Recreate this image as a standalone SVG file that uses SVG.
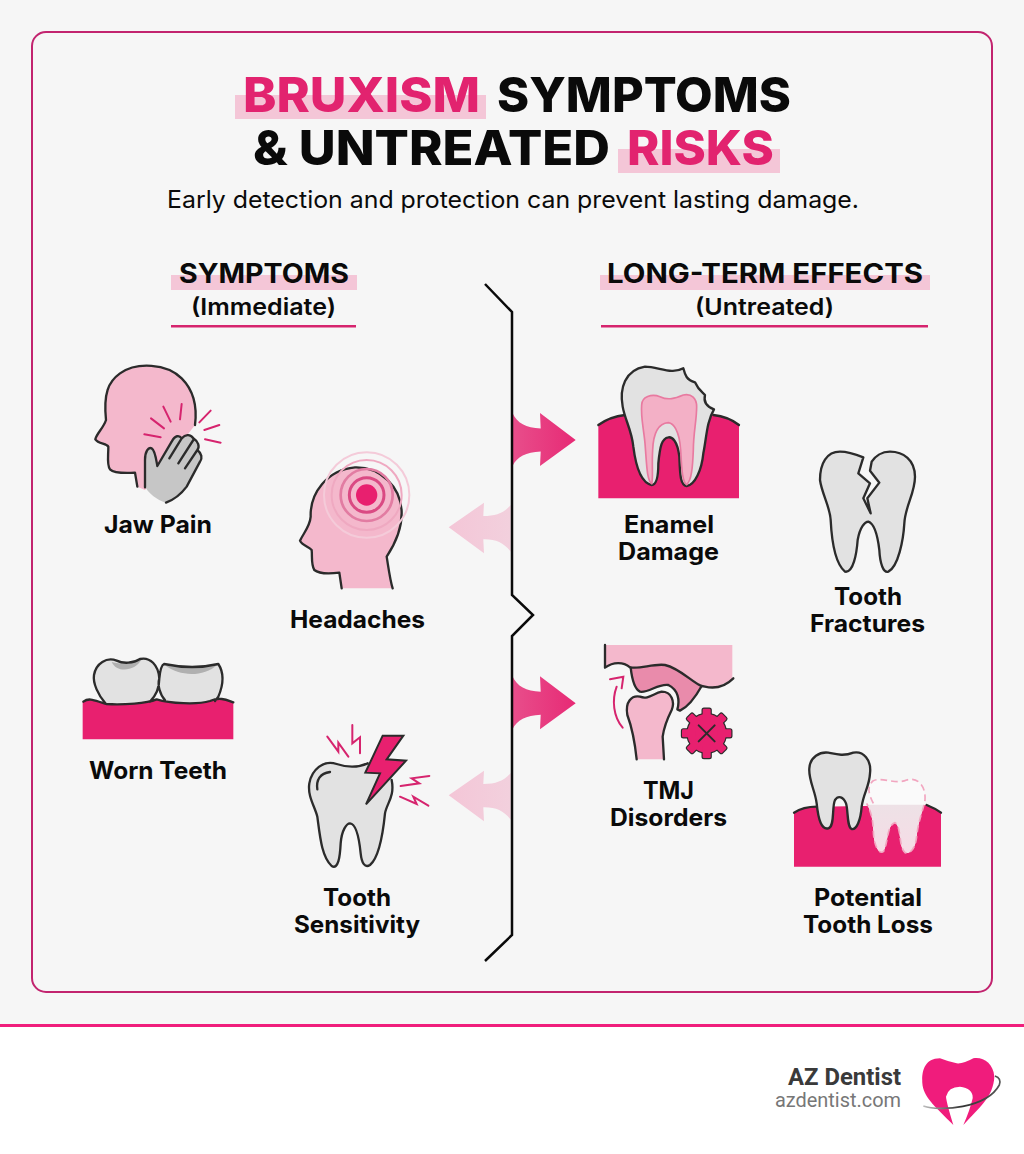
<svg xmlns="http://www.w3.org/2000/svg" width="1024" height="1154" viewBox="0 0 1024 1154">
<style>
text{font-family:Inter,"Liberation Sans",sans-serif;fill:#0a0a0a}
.t{font-size:48px;font-weight:800}
.p{fill:#E2236F}
.h{fill:#F4C6D7}
.lb{font-size:24px;font-weight:700}
.hd{font-size:27px;font-weight:700}
.sub{font-size:23px;font-weight:600}
.o{stroke:#2b2b2b;stroke-width:7;fill:none;stroke-linecap:round;stroke-linejoin:round}
.m{stroke:#D6246E;stroke-width:6;fill:none;stroke-linecap:round;stroke-linejoin:miter}
.sk{fill:#F4B8CC}
.gr{fill:#E2E2E2}
.gum{fill:#E8206F}
</style>
<defs>
<linearGradient id="ga" x1="0" x2="1" y1="0" y2="0"><stop offset="0" stop-color="#E84E8B"/><stop offset="1" stop-color="#E72A75"/></linearGradient>
<linearGradient id="gb" x1="0" x2="1" y1="0" y2="0"><stop offset="0" stop-color="#F4C6D7"/><stop offset="1" stop-color="#F2D0DD"/></linearGradient>
<linearGradient id="gg" x1="0" x2="0" y1="0" y2="1"><stop offset="0" stop-color="#E9E4E6"/><stop offset="1" stop-color="#F6DCE6"/></linearGradient>
<linearGradient id="gr" x1="0" x2="1" y1="0" y2="0"><stop offset="0" stop-color="#BDBDBD"/><stop offset=".5" stop-color="#333"/><stop offset="1" stop-color="#555"/></linearGradient>
<path id="ar" d="M512.500 413C517 423 526 428 540.700 428.500L540 413L575.700 440L540 466L540.700 451.500C526 452 517 457 512.500 466Z"/>
<path id="al" d="M510.700 505C504 513 496 516 483.300 516L484 502.700L448.700 527.300L484 553.300L483.300 539.300C496 539 504 543 510.700 551.700Z"/>
<clipPath id="below"><rect x="600" y="524" width="460" height="200"/></clipPath>
<filter id="soft" x="-10%" y="-10%" width="120%" height="120%"><feGaussianBlur stdDeviation="0.5"/></filter>
<rect id="gt" x="-12" y="-74" width="24" height="40" rx="4"/>
</defs>
<rect width="1024" height="1154" fill="#F6F6F6"/>
<rect y="1027" width="1024" height="127" fill="#fff"/>
<rect y="1024" width="1024" height="3" fill="#F01E7C"/>
<rect x="32" y="32" width="960" height="960" rx="14" fill="none" stroke="#C2246F" stroke-width="2"/>

<g id="title">
<rect x="235" y="95" width="251" height="24" class="h"/>
<rect x="618" y="149" width="162" height="24" class="h"/>
<text x="243" y="112" class="t p" textLength="237" lengthAdjust="spacingAndGlyphs">BRUXISM</text>
<text x="497" y="112" class="t" textLength="294" lengthAdjust="spacingAndGlyphs">SYMPTOMS</text>
<text x="253" y="165" class="t" textLength="357" lengthAdjust="spacingAndGlyphs">&amp; UNTREATED</text>
<text x="627" y="165" class="t p" textLength="147" lengthAdjust="spacingAndGlyphs">RISKS</text>
<text x="167" y="208" font-size="24" textLength="692" lengthAdjust="spacingAndGlyphs">Early detection and protection can prevent lasting damage.</text>
</g>

<g id="head-symptoms">
<rect x="171" y="275" width="186" height="15" class="h"/>
<text x="179" y="283" class="hd" textLength="170" lengthAdjust="spacingAndGlyphs">SYMPTOMS</text>
<text x="191" y="315" class="sub" textLength="145" lengthAdjust="spacingAndGlyphs">(Immediate)</text>
<rect x="171" y="325" width="185" height="2.500" fill="#D6246E"/>
</g>
<g id="head-effects">
<rect x="600" y="275" width="330" height="15" class="h"/>
<text x="607" y="283" class="hd" textLength="316" lengthAdjust="spacingAndGlyphs">LONG-TERM EFFECTS</text>
<text x="695" y="315" class="sub" textLength="139" lengthAdjust="spacingAndGlyphs">(Untreated)</text>
<rect x="601" y="325" width="327" height="2.500" fill="#D6246E"/>
</g>

<g id="connectors">
<use href="#ar" fill="url(#ga)"/>
<use href="#ar" y="263.300" fill="url(#ga)"/>
<use href="#al" fill="url(#gb)"/>
<use href="#al" y="268" fill="url(#gb)"/>
<path d="M485 284L512 312V595L533 615L512 636V935L485 961" fill="none" stroke="#0a0a0a" stroke-width="2.500"/>
</g>

<g id="jaw-pain">
<g transform="translate(80 350) scale(.33333)">
<path class="sk" d="M172 410L165 368C130 370 100 368 90 358C80 345 85 320 85 290C80 280 55 282 46 268C50 250 70 235 78 210C70 130 85 95 120 70C170 35 260 40 305 85C340 120 352 170 345 225L195 420Z"/>
<path class="o" d="M172 410L165 368C130 370 100 368 90 358C80 345 85 320 85 290C80 280 55 282 46 268C50 250 70 235 78 210C70 130 85 95 120 70C170 35 260 40 305 85C340 120 352 170 345 225"/>
<path fill="#C6C6C6" d="M258 458C230 450 205 430 192 405L195 330C195 305 205 290 215 295C225 300 228 325 232 348L275 275C285 255 298 255 305 265C315 255 330 250 340 265C355 275 360 290 352 300C365 310 368 325 360 335L320 410C305 430 280 450 258 458Z"/>
<path class="o" d="M195 412L195 330C195 305 205 290 215 295C225 300 228 325 232 348L275 275C285 255 298 255 305 265C315 255 330 250 340 265C355 275 360 290 352 300C365 310 368 325 360 335L320 410C305 430 280 450 258 458M305 265L268 325M340 270L295 340M352 300L315 355"/>
<path class="m" d="M250 170L272 215M305 162L300 208M213 205L252 235M193 253L242 262M392 182L358 217M418 225L373 240M375 268L422 278"/>
</g>
<text x="104" y="533" class="lb" textLength="108" lengthAdjust="spacingAndGlyphs">Jaw Pain</text>
</g>

<g id="headaches">
<g transform="translate(80 350) scale(.33333)">
<path class="sk" d="M785 715L778 668C745 672 715 670 703 660C693 645 697 620 695 600C685 590 665 585 660 572C670 550 690 530 692 500C690 430 740 360 825 352C900 350 965 410 965 490C965 540 940 590 920 620C925 650 930 690 938 715Z"/>
<path class="o" d="M785 715L778 668C745 672 715 670 703 660C693 645 697 620 695 600C685 590 665 585 660 572C670 550 690 530 692 500C690 430 740 360 825 352C900 350 965 410 965 490C965 540 940 590 920 620C925 650 930 690 938 715"/>
<g fill="none">
<circle cx="860" cy="435" r="128" stroke="#F4CBD9" stroke-width="6"/>
<circle cx="860" cy="435" r="105" stroke="#EFA9C1" stroke-width="6"/>
<circle cx="860" cy="435" r="78" stroke="#E27CA2" stroke-width="8"/>
<circle cx="860" cy="435" r="52" stroke="#DA4A83" stroke-width="9"/>
</g>
<circle cx="860" cy="435" r="32" class="gum"/>
</g>
<text x="290" y="628" class="lb" textLength="135" lengthAdjust="spacingAndGlyphs">Headaches</text>
</g>

<g id="worn-teeth">
<g transform="translate(70 640) scale(.33333)">
<path class="gr" d="M105 190C85 165 68 130 72 105C78 70 110 50 140 62C160 72 190 70 210 57C240 50 265 75 268 115C268 145 255 170 240 185Z"/>
<path fill="#B0B0B0" d="M125 66C140 100 195 95 215 58C190 72 160 74 125 66Z"/>
<path class="gr" d="M268 115C270 95 275 75 282 72C330 82 390 85 445 72C460 95 462 130 445 170L435 185C390 195 310 195 285 180C270 165 262 135 268 115Z"/>
<path fill="#B0B0B0" d="M285 76C330 110 400 112 442 74C390 86 330 84 285 76Z"/>
<path class="gum" d="M38 185C60 170 80 185 110 192C160 195 230 190 260 178C300 190 380 195 420 183C450 170 470 180 490 187V298H38Z"/>
<path class="o" d="M40 185C60 170 80 185 110 192C160 195 230 190 260 178C300 190 380 195 420 183C450 170 470 180 490 187M105 188C85 165 68 130 72 105C78 70 110 50 140 62C160 72 190 70 210 57C240 50 265 75 268 115C268 145 255 170 240 185M268 115C270 95 275 75 282 72C330 82 390 85 445 72C460 95 462 130 445 170L435 183M285 180C270 165 262 135 268 115"/>
</g>
<text x="89" y="779" class="lb" textLength="138" lengthAdjust="spacingAndGlyphs">Worn Teeth</text>
</g>

<g id="tooth-sensitivity">
<g transform="translate(70 640) scale(.33333)">
<path class="o" style="fill:#E2E2E2" d="M893 370C860 385 830 382 800 372C760 358 725 390 718 430C712 470 735 500 742 530C750 590 755 650 785 678C805 690 810 650 812 610C815 570 830 550 840 550C860 552 868 600 872 640C875 670 885 685 900 675C930 650 940 570 945 520C950 490 975 470 965 420"/>
<path class="o" d="M742 448C738 420 750 400 780 396"/>
<path class="gum" stroke="#2b2b2b" stroke-width="6" stroke-linejoin="miter" d="M938 287L1000 287L950 358L1008 362L888 493L930 400L886 398Z"/>
<path class="m" d="M772 290L805 335L805 308L835 350M847 255L847 310L870 292L870 340M1078 408L1025 415L1048 430L992 438M990 470L1040 492L1030 470L1075 497"/>
</g>
<text x="323" y="906" class="lb" textLength="68" lengthAdjust="spacingAndGlyphs">Tooth</text>
<text x="294" y="933" class="lb" textLength="126" lengthAdjust="spacingAndGlyphs">Sensitivity</text>
</g>

<g id="enamel-damage">
<g transform="translate(590 350) scale(.33333)">
<path class="gum" d="M25 225Q60 200 105 195L370 195Q415 200 447 225V445H25Z"/>
<path class="o" d="M25 225Q60 200 105 195M370 195Q415 200 447 225"/>
<path class="o" style="fill:#E2E2E2" d="M185 405C160 400 140 370 130 290C125 240 105 210 98 170C88 115 105 60 165 50C205 50 245 75 280 55C285 75 290 90 315 97C325 120 335 125 345 135C340 155 350 170 372 178C350 215 350 260 340 310C335 360 315 405 290 408C270 405 270 370 268 320C262 270 245 260 235 262C215 265 210 290 205 340C205 380 200 405 185 405Z"/>
<path fill="#F3B0C6" stroke="#E87AA0" stroke-width="5" d="M155 165C155 140 185 130 210 140C235 152 255 145 280 135C305 130 320 145 320 170C320 210 310 250 310 300C308 350 305 390 290 404C276 395 275 350 272 300C268 240 250 220 235 218C205 220 190 250 188 300C185 350 190 385 185 401C170 390 170 340 165 280C160 230 152 200 155 165Z"/>
</g>
<text x="624" y="533" class="lb" textLength="90" lengthAdjust="spacingAndGlyphs">Enamel</text>
<text x="618" y="560" class="lb" textLength="101" lengthAdjust="spacingAndGlyphs">Damage</text>
</g>

<g id="tooth-fractures">
<g transform="translate(590 350) scale(.33333)">
<path class="o" style="fill:#E2E2E2" d="M820 322C795 312 775 305 750 305C710 305 690 340 690 390C695 430 720 470 722 510C725 570 735 640 765 665C790 670 800 610 803 570C810 530 825 515 835 515C850 520 862 550 868 600C870 640 880 670 895 665C925 650 940 570 943 520C945 470 975 430 975 380C975 330 940 305 900 305C875 305 855 320 845 335L840 362L868 398L832 445L842 490L820 445L840 400L805 370Z"/>
</g>
<text x="834" y="605" class="lb" textLength="68" lengthAdjust="spacingAndGlyphs">Tooth</text>
<text x="810" y="632" class="lb" textLength="115" lengthAdjust="spacingAndGlyphs">Fractures</text>
</g>

<g id="tmj-disorders">
<g transform="translate(590 630) scale(.33333)">
<path class="sk" d="M45 45H427V145C400 165 370 178 345 170C310 160 270 115 225 105C190 100 150 118 120 112C100 95 70 95 45 113Z"/>
<path fill="#E98BAB" stroke="#2b2b2b" stroke-width="7" stroke-linejoin="round" d="M122 112C150 118 190 100 225 105C270 115 310 160 335 168C320 195 295 230 270 242L262 238C270 210 265 180 235 165C205 160 175 190 150 185C130 175 125 140 122 112Z"/>
<path class="o" d="M45 45V113C70 95 100 95 120 112M335 168L345 170C380 178 410 165 430 145"/>
<path class="sk" d="M140 388C135 340 125 290 112 255C105 215 125 195 150 200C175 210 190 190 215 185C245 185 255 215 245 240C235 260 222 290 218 320L222 388Z"/>
<path class="o" d="M140 388C135 340 125 290 112 255C105 215 125 195 150 200C175 210 190 190 215 185C245 185 255 215 245 240C235 260 222 290 218 320L222 388"/>
<path class="m" d="M98 293C70 260 65 210 80 170M60 148L100 140L95 175"/>
<g transform="translate(350 310)">
<g stroke="#2b2b2b" stroke-width="7" fill="#2b2b2b">
<circle r="58"/>
<use href="#gt"/><use href="#gt" transform="rotate(45)"/><use href="#gt" transform="rotate(90)"/><use href="#gt" transform="rotate(135)"/><use href="#gt" transform="rotate(180)"/><use href="#gt" transform="rotate(225)"/><use href="#gt" transform="rotate(270)"/><use href="#gt" transform="rotate(315)"/>
</g>
<g class="gum">
<circle r="58"/>
<use href="#gt"/><use href="#gt" transform="rotate(45)"/><use href="#gt" transform="rotate(90)"/><use href="#gt" transform="rotate(135)"/><use href="#gt" transform="rotate(180)"/><use href="#gt" transform="rotate(225)"/><use href="#gt" transform="rotate(270)"/><use href="#gt" transform="rotate(315)"/>
</g>
<path class="o" d="M-24 -24L24 24M24 -24L-24 24" style="stroke-width:6"/>
</g>
</g>
<text x="643" y="799" class="lb" textLength="51" lengthAdjust="spacingAndGlyphs">TMJ</text>
<text x="610" y="826" class="lb" textLength="117" lengthAdjust="spacingAndGlyphs">Disorders</text>
</g>

<g id="potential-tooth-loss">
<g transform="translate(590 630) scale(.33333)">
<path class="gum" d="M612 548Q640 530 680 530L1010 525Q1035 535 1053 548V710H612Z"/>
<path class="o" d="M612 548Q640 530 680 530M1010 525Q1035 535 1053 548"/>
<path fill="#FAFAFA" d="M850 520C835 490 830 470 850 452C880 440 915 465 950 450C985 440 1008 470 1005 510C1000 540 985 570 980 620C975 660 960 672 945 668C925 650 935 590 915 578C890 585 895 640 880 665C865 675 850 640 850 600C848 560 840 540 830 520Z"/>
<path fill="url(#gg)" clip-path="url(#below)" d="M850 520C835 490 830 470 850 452C880 440 915 465 950 450C985 440 1008 470 1005 510C1000 540 985 570 980 620C975 660 960 672 945 668C925 650 935 590 915 578C890 585 895 640 880 665C865 675 850 640 850 600C848 560 840 540 830 520Z"/>
<path fill="none" stroke="#F2A6C0" stroke-width="5" stroke-dasharray="20 12" d="M850 520C835 490 830 470 850 452C880 440 915 465 950 450C985 440 1008 470 1005 510C1000 540 985 570 980 620C975 660 960 672 945 668C925 650 935 590 915 578C890 585 895 640 880 665C865 675 850 640 850 600C848 560 840 540 830 520"/>
<path class="o" style="fill:#E2E2E2" d="M715 595C695 600 685 570 680 520C675 480 655 450 658 415C660 380 690 365 715 368C735 372 760 380 790 368C820 362 845 390 840 430C838 470 820 490 815 530C812 570 800 600 785 597C770 590 775 540 768 520C760 500 745 495 735 510C725 530 735 590 715 595Z"/>
</g>
<text x="814" y="906" class="lb" textLength="108" lengthAdjust="spacingAndGlyphs">Potential</text>
<text x="803" y="933" class="lb" textLength="130" lengthAdjust="spacingAndGlyphs">Tooth Loss</text>
</g>

<g id="brand">
<text x="788" y="1085" font-size="23.500" font-weight="700" style="font-family:Roboto,sans-serif;fill:#3a3a3a" textLength="113" lengthAdjust="spacingAndGlyphs">AZ Dentist</text>
<text x="775" y="1107" font-size="20" style="font-family:Roboto,sans-serif;fill:#777" textLength="126" lengthAdjust="spacingAndGlyphs">azdentist.com</text>
<g transform="translate(760 1040) scale(.33333)" filter="url(#soft)">
<path fill="#F01E7C" d="M540 55C490 55 485 100 487 130C490 170 520 195 580 255Q560 190 558 170Q565 140 600 140Q640 145 638 175Q630 210 610 255C660 200 700 170 703 110C700 70 670 50 640 55Q610 72 590 70Q565 65 540 55Z"/>
<path fill="none" stroke="url(#gr)" stroke-width="5" d="M490 198C540 215 680 205 718 135Q725 115 705 108"/>
</g>
</g>
</svg>
